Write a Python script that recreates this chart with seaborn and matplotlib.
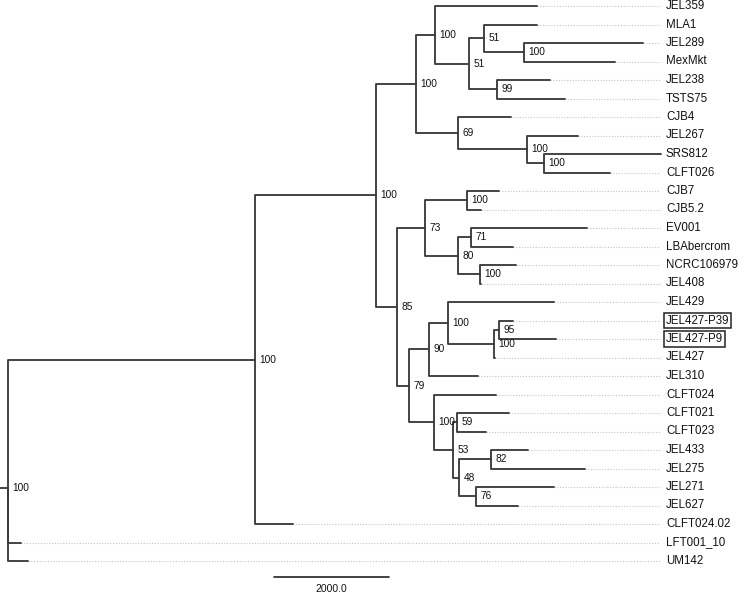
import numpy as np
import pandas as pd
import seaborn as sns
import matplotlib.pyplot as plt

# ---------------- data ----------------
# preorder list of tree nodes (children listed in display order)
node_names = ["root", "A", "B", "C", "D", "JEL359", "F", "G", "MLA1", "I", "JEL289", "MexMkt",
              "H", "JEL238", "TSTS75", "E", "CJB4", "J", "JEL267", "K", "SRS812", "CLFT026",
              "N85", "N73", "L", "CJB7", "CJB5.2", "M", "N71", "EV001", "LBAbercrom", "O",
              "NCRC106979", "JEL408", "N79", "N90", "P", "JEL429", "Q", "R", "JEL427-P39",
              "JEL427-P9", "JEL427", "JEL310", "N100", "CLFT024", "N53", "N59", "CLFT021",
              "CLFT023", "N48", "N82", "JEL433", "JEL275", "N76", "JEL271", "JEL627",
              "CLFT024.02", "LFT001_10", "UM142"]
node_parents = [None, "root", "A", "B", "C", "D", "D", "F", "G", "G", "I", "I",
                "F", "H", "H", "C", "E", "E", "J", "J", "K", "K",
                "B", "N85", "N73", "L", "L", "N73", "M", "N71", "N71", "M",
                "O", "O", "N85", "N79", "N90", "P", "P", "Q", "R",
                "R", "Q", "N90", "N79", "N100", "N100", "N53", "N59",
                "N59", "N53", "N48", "N82", "N82", "N48", "N76", "N76",
                "A", "root", "root"]
branch_lengths = [0, 4295, 2104, 696, 330, 1774, 591, 261, 922, 696, 2069, 1582,
                  487, 922, 1183, 730, 922, 1200, 887, 296, 2035, 1148,
                  365, 487, 730, 556, 243, 574, 226, 2017, 730, 383,
                  626, 17, 209, 348, 330, 1843, 800, 87, 243,
                  991, 17, 852, 435, 1078, 330, 70, 904,
                  504, 104, 556, 643, 1635, 296, 1356, 730,
                  661, 226, 348]
node_support = [100, 100, 100, 100, 100, None, 51, 51, None, 100, None, None,
                99, None, None, 69, None, 100, None, 100, None, None,
                85, 73, 100, None, None, 80, 71, None, None, 100,
                None, None, 79, 90, 100, None, 100, 95, None,
                None, None, None, 100, None, 53, 59, None,
                None, 48, 82, None, None, 76, None, None,
                None, None, None]
boxed_leaves = ["JEL427-P39", "JEL427-P9"]
scale_length = 2000.0
scale_label = "2000.0"

# ---------------- layout ----------------
UPX = 2000.0 / 115.0          # tree units per pixel
children = {n: [] for n in node_names}
for n, p in zip(node_names, node_parents):
    if p is not None:
        children[p].append(n)
blen = dict(zip(node_names, branch_lengths))
supp = dict(zip(node_names, node_support))
par = dict(zip(node_names, node_parents))

depth = {}
for n in node_names:
    depth[n] = 0.0 if par[n] is None else depth[par[n]] + blen[n]

leaves = [n for n in node_names if not children[n]]
ypos = {n: i for i, n in enumerate(leaves)}
for n in reversed(node_names):
    if children[n]:
        ypos[n] = float(np.mean([ypos[c] for c in children[n]]))

rows = []
for k, n in enumerate(node_names):
    p = par[n]
    if p is None:
        continue
    for (x, y) in [(depth[p], ypos[p]), (depth[p], ypos[n]), (depth[n], ypos[n])]:
        rows.append({"seg": k, "x": x, "y": y})
seg_df = pd.DataFrame(rows)

DOT_END = 652 * UPX
LABEL_X = 658 * UPX
dot_rows = []
for k, n in enumerate(leaves):
    dot_rows.append({"seg": k, "x": depth[n], "y": ypos[n]})
    dot_rows.append({"seg": k, "x": DOT_END, "y": ypos[n]})
dot_df = pd.DataFrame(dot_rows)

# ---------------- plot ----------------
sns.set_theme(style="white")
plt.rcParams['font.family'] = ['Liberation Sans', 'DejaVu Sans']

fig = plt.figure(figsize=(7.39, 5.93), dpi=100)
ax = fig.add_axes([0, 0, 1, 1])

sns.lineplot(data=dot_df, x="x", y="y", units="seg", estimator=None, sort=False,
             color="#c4c4c4", lw=0.8, linestyle=(0, (1, 1.5)), ax=ax, legend=False)
sns.lineplot(data=seg_df, x="x", y="y", units="seg", estimator=None, sort=False,
             color="#3c3c3c", lw=1.35, ax=ax, legend=False)

# root stem
ax.plot([-8 * UPX, 0], [ypos["root"], ypos["root"]], color="#3c3c3c", lw=1.35,
        solid_capstyle="butt")

# support values
for n in node_names:
    if children[n] and supp[n] is not None:
        ax.text(depth[n] + 4.5 * UPX, ypos[n], str(supp[n]), fontsize=7.3,
                va="center", ha="left", color="#111111")

# leaf labels
for n in leaves:
    kw = {}
    if n in boxed_leaves:
        kw["bbox"] = dict(boxstyle="square,pad=0.16", fc="white", ec="#222222", lw=1.1)
    ax.text(LABEL_X, ypos[n], n, fontsize=8.3, va="center", ha="left",
            color="#111111", **kw)

# scale bar
sb_x0 = 266 * UPX
sb_y = (577 - 6) / 18.5
ax.plot([sb_x0, sb_x0 + scale_length], [sb_y, sb_y], color="#222222", lw=1.2)
ax.text(sb_x0 + scale_length / 2, (589 - 6) / 18.5, scale_label, fontsize=7.5,
        ha="center", va="center", color="#111111")

ax.set_xlim(-8 * UPX, (739 - 8) * UPX)
ax.set_ylim((593 - 6) / 18.5, -6 / 18.5)
ax.set_axis_off()

fig.savefig("out.png", dpi=100)
